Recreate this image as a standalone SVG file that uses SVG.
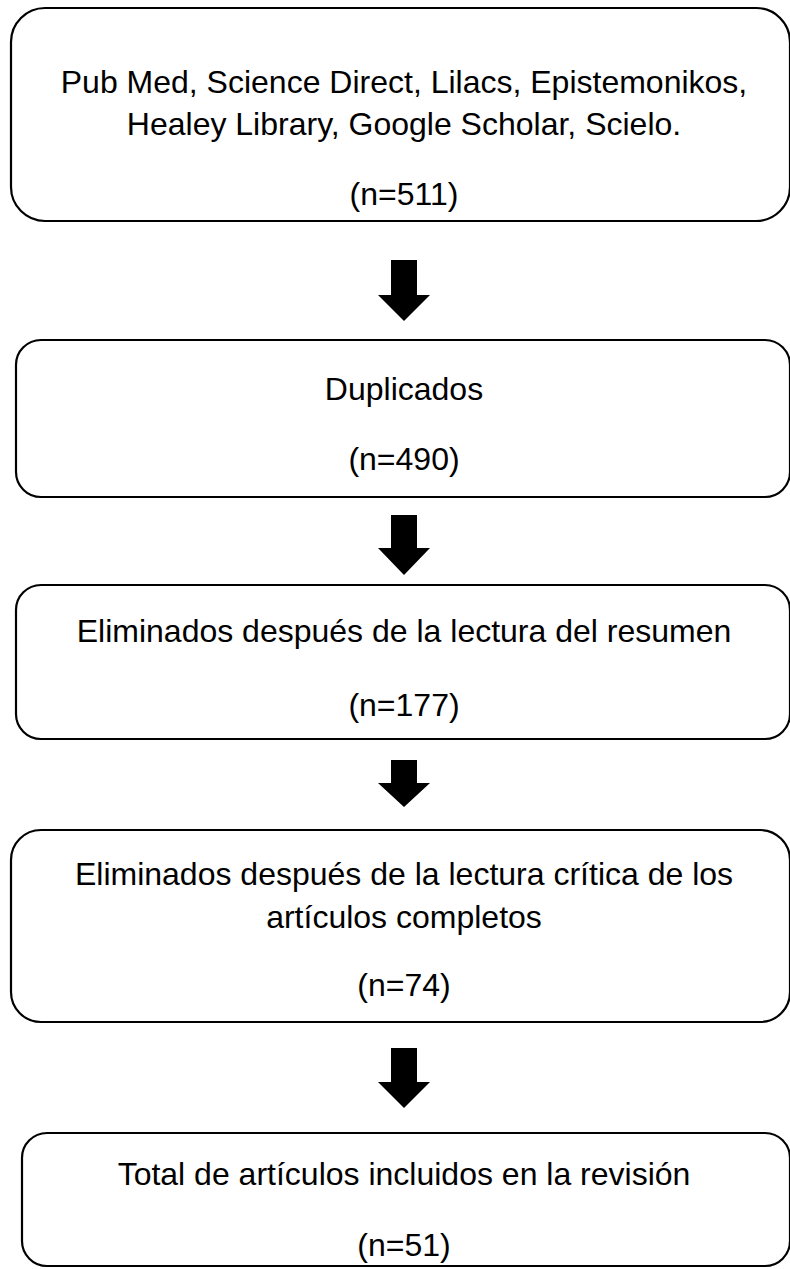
<svg xmlns="http://www.w3.org/2000/svg" width="790" height="1269" viewBox="0 0 790 1269">
<style>
.box{fill:#fff;stroke:#000;stroke-width:2.2}
.t{font-family:"Liberation Sans",Arial,sans-serif;font-size:32px;fill:#000;text-anchor:middle}
.arr{fill:#000}
</style>
<rect width="790" height="1269" fill="#fff"/>
<g id="node1">
<rect class="box" x="11" y="8" width="779" height="213" rx="34" ry="34"/>
<text class="t" x="404" y="93">Pub Med, Science Direct, Lilacs, Epistemonikos,</text>
<text class="t" x="404" y="135">Healey Library, Google Scholar, Scielo.</text>
<text class="t" x="404" y="205">(n=511)</text>
</g>
<g id="node2">
<rect class="box" x="16" y="340" width="774" height="157" rx="25" ry="25"/>
<text class="t" x="404" y="400">Duplicados</text>
<text class="t" x="404" y="470">(n=490)</text>
</g>
<g id="node3">
<rect class="box" x="16" y="585" width="774" height="154" rx="25" ry="25"/>
<text class="t" x="404" y="642">Eliminados después de la lectura del resumen</text>
<text class="t" x="404" y="716">(n=177)</text>
</g>
<g id="node4">
<rect class="box" x="11" y="830" width="779" height="192" rx="30" ry="30"/>
<text class="t" x="404" y="885">Eliminados después de la lectura crítica de los</text>
<text class="t" x="404" y="928">artículos completos</text>
<text class="t" x="404" y="996">(n=74)</text>
</g>
<g id="node5">
<rect class="box" x="22" y="1133" width="768" height="133" rx="25" ry="25"/>
<text class="t" x="404" y="1185">Total de artículos incluidos en la revisión</text>
<text class="t" x="404" y="1256">(n=51)</text>
</g>
<g id="connectors">
<polygon class="arr" points="391,260 417,260 417,295 430,295 404,321 378,295 391,295"/>
<polygon class="arr" points="391,515 417,515 417,548 430,548 404,575 378,548 391,548"/>
<polygon class="arr" points="391,760 417,760 417,783 430,783 404,807 378,783 391,783"/>
<polygon class="arr" points="391,1048 417,1048 417,1082 430,1082 404,1108 378,1082 391,1082"/>
</g>
</svg>
